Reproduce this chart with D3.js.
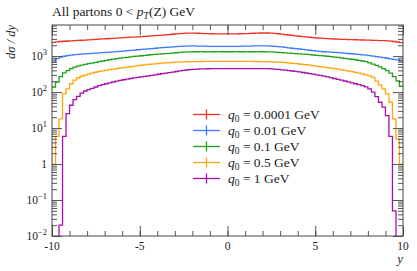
<!DOCTYPE html>
<html>
<head>
<meta charset="utf-8">
<script src="https://cdn.jsdelivr.net/npm/d3@7"></script>
<style>
  body { margin: 0; background: #fff; }
  svg { display: block; }
  text { font-family: "Liberation Serif", "DejaVu Serif", serif; fill: #222; }
</style>
</head>
<body>
<div id="chart"></div>
<script>
// rapidity bins: -10 .. 10 in steps of 0.2
const binEdges = d3.range(101).map(i => +(-10 + i * 0.2).toFixed(1));

// d sigma / dy per bin, left to right
const red = [
  2400, 2480, 2540, 2580, 2620, 2650, 2690, 2720, 2750, 2780,
  2820, 2860, 2900, 2950, 2990, 3030, 3080, 3120, 3160, 3200,
  3240, 3290, 3340, 3380, 3430, 3480, 3530, 3580, 3630, 3680,
  3740, 3800, 3870, 3950, 4040, 4130, 4220, 4290, 4340, 4350,
  4330, 4300, 4260, 4220, 4190, 4170, 4160, 4150, 4150, 4150,
  4150, 4150, 4160, 4170, 4190, 4220, 4260, 4300, 4340, 4370,
  4380, 4370, 4330, 4260, 4170, 4070, 3960, 3850, 3740, 3640,
  3550, 3470, 3400, 3330, 3270, 3210, 3160, 3110, 3060, 3020,
  2980, 2950, 2920, 2900, 2880, 2860, 2840, 2820, 2800, 2780,
  2760, 2740, 2720, 2700, 2670, 2640, 2600, 2540, 2460, 2370
];
const blue = [
  680, 850, 930, 990, 1030, 1060, 1090, 1110, 1130, 1150,
  1170, 1190, 1210, 1230, 1250, 1270, 1290, 1310, 1330, 1350,
  1380, 1410, 1440, 1470, 1500, 1530, 1560, 1590, 1620, 1650,
  1680, 1710, 1740, 1770, 1800, 1830, 1860, 1880, 1900, 1910,
  1910, 1900, 1890, 1880, 1870, 1870, 1860, 1860, 1860, 1860,
  1860, 1860, 1870, 1870, 1880, 1890, 1900, 1910, 1920, 1930,
  1930, 1920, 1900, 1870, 1830, 1790, 1740, 1700, 1650, 1610,
  1570, 1530, 1490, 1450, 1420, 1380, 1350, 1320, 1300, 1280,
  1260, 1240, 1220, 1200, 1180, 1160, 1130, 1110, 1080, 1060,
  1030, 1000, 970, 940, 900, 870, 840, 810, 780, 720
];
const green = [
  138, 190, 270, 340, 395, 445, 490, 525, 560, 590,
  615, 640, 665, 700, 730, 760, 790, 820, 850, 875,
  900, 925, 950, 975, 1000, 1020, 1045, 1070, 1090, 1110,
  1130, 1150, 1170, 1190, 1210, 1235, 1260, 1280, 1300, 1310,
  1320, 1320, 1325, 1320, 1315, 1320, 1320, 1325, 1320, 1320,
  1320, 1320, 1325, 1320, 1320, 1315, 1320, 1320, 1325, 1320,
  1320, 1310, 1300, 1290, 1270, 1250, 1230, 1210, 1190, 1170,
  1150, 1130, 1110, 1090, 1070, 1050, 1030, 1010, 990, 965,
  940, 915, 890, 865, 840, 815, 790, 760, 730, 700,
  650, 600, 550, 500, 450, 395, 335, 270, 205, 145
];
const orange = [
  1.0, 5.9, 18, 89, 123, 170, 214, 250, 275, 295,
  315, 335, 355, 375, 390, 405, 420, 435, 450, 465,
  480, 495, 510, 525, 540, 555, 570, 585, 598, 610,
  622, 634, 645, 655, 665, 675, 683, 690, 695, 700,
  703, 705, 707, 708, 708, 708, 708, 708, 708, 708,
  708, 708, 708, 708, 708, 708, 708, 707, 706, 705,
  705, 700, 693, 685, 676, 666, 655, 643, 630, 616,
  602, 588, 573, 558, 543, 528, 512, 496, 480, 464,
  448, 432, 416, 400, 384, 368, 352, 336, 319, 300,
  280, 255, 200, 155, 123, 89, 52, 18, 5, 1.0
];
const purple = [
  0, 0, 0.02, 5.9, 25, 43, 62, 76, 93, 107,
  117, 127, 138, 150, 160, 170, 180, 190, 200, 210,
  220, 229, 238, 247, 256, 265, 274, 283, 292, 301,
  312, 324, 336, 348, 360, 373, 386, 398, 410, 420,
  428, 434, 439, 442, 444, 446, 447, 447, 447, 447,
  447, 447, 447, 447, 447, 447, 447, 447, 447, 447,
  447, 445, 440, 433, 425, 416, 406, 396, 385, 374,
  362, 350, 338, 326, 314, 302, 290, 277, 264, 251,
  238, 226, 214, 203, 192, 181, 170, 160, 150, 139,
  122, 100, 75, 52, 38, 22, 5.9, 0.05, 0, 0
];

const seriesNames = ["0.0001", "0.01", "0.1", "0.5", "1"];
const seriesValues = [red, blue, green, orange, purple];
const seriesColors = ["#ee3324", "#3f7bff", "#1ea21e", "#ffa50a", "#a80fae"];

const xMajor = [-10, -5, 0, 5, 10];
const xMinor = d3.range(-10, 11, 1);
const yDecades = [-2, -1, 0, 1, 2, 3];

const W = 417, H = 271;
const margin = { top: 25, right: 14, bottom: 35, left: 52 };
const width = W - margin.left - margin.right;
const height = H - margin.top - margin.bottom;

const svg = d3.select("#chart").append("svg")
  .attr("width", W).attr("height", H);

const x = d3.scaleLinear().domain([-10, 10]).range([0, width]);
const y = d3.scaleLog().domain([0.01, 7300]).range([height, 0]);

const g = svg.append("g")
  .attr("transform", `translate(${margin.left},${margin.top})`);

g.append("clipPath").attr("id", "plotclip")
  .append("rect").attr("x", 0).attr("y", 0).attr("width", width).attr("height", height);

// histogram lines
const line = d3.line()
  .curve(d3.curveStepAfter)
  .x(d => x(d.x))
  .y(d => d.v > 0 ? y(d.v) : height + 30);

seriesValues.forEach((vals, k) => {
  const pts = vals.map((v, i) => ({ x: binEdges[i], v }));
  pts.push({ x: binEdges[vals.length], v: vals[vals.length - 1] });
  g.append("path")
    .attr("clip-path", "url(#plotclip)")
    .attr("d", line(pts))
    .attr("fill", "none")
    .attr("stroke", seriesColors[k])
    .attr("stroke-width", 1.3);
});

// log minor ticks
const yMinor = [];
yDecades.forEach(e => {
  for (let m = 2; m <= 9; m++) {
    const v = m * Math.pow(10, e);
    if (v <= 7300) yMinor.push(v);
  }
});
const yMajor = yDecades.map(e => Math.pow(10, e));

const axisColor = "#444";
function styleAxis(sel) {
  sel.select(".domain").remove();
  sel.selectAll(".tick line").attr("stroke", axisColor).attr("stroke-width", 0.9);
  sel.selectAll(".tick text").remove();
}

// bottom & top
g.append("g").attr("transform", `translate(0,${height})`)
  .call(d3.axisBottom(x).tickValues(xMinor).tickSize(-5)).call(styleAxis);
g.append("g").attr("transform", `translate(0,${height})`)
  .call(d3.axisBottom(x).tickValues(xMajor).tickSize(-10)).call(styleAxis);
g.append("g")
  .call(d3.axisTop(x).tickValues(xMinor).tickSize(-5)).call(styleAxis);
g.append("g")
  .call(d3.axisTop(x).tickValues(xMajor).tickSize(-10)).call(styleAxis);

// left & right
g.append("g").call(d3.axisLeft(y).tickValues(yMinor).tickSize(-5)).call(styleAxis);
g.append("g").call(d3.axisLeft(y).tickValues(yMajor).tickSize(-10)).call(styleAxis);
g.append("g").attr("transform", `translate(${width},0)`)
  .call(d3.axisRight(y).tickValues(yMinor).tickSize(-5)).call(styleAxis);
g.append("g").attr("transform", `translate(${width},0)`)
  .call(d3.axisRight(y).tickValues(yMajor).tickSize(-10)).call(styleAxis);

// frame
g.append("rect")
  .attr("x", 0).attr("y", 0).attr("width", width).attr("height", height)
  .attr("fill", "none").attr("stroke", axisColor).attr("stroke-width", 1);

// x tick labels
g.selectAll(".xlab").data(xMajor).join("text")
  .attr("class", "xlab")
  .attr("x", d => x(d))
  .attr("y", height + 14)
  .attr("text-anchor", "middle")
  .style("font-size", "11.5px")
  .text(d => d);

// y tick labels
const ylab = g.selectAll(".ylab").data(yDecades).join("text")
  .attr("class", "ylab")
  .attr("x", -5)
  .attr("y", d => y(Math.pow(10, d)) + 3.5)
  .attr("text-anchor", "end")
  .style("font-size", "11.5px");
ylab.each(function(d) {
  const t = d3.select(this);
  if (d === 0) { t.text("1"); return; }
  t.append("tspan").text("10");
  t.append("tspan").attr("dy", -4.5).style("font-size", "8.5px")
    .text(d < 0 ? "\u2212" + (-d) : d);
});

// axis titles
svg.append("text")
  .attr("x", margin.left + width)
  .attr("y", H - 8)
  .attr("text-anchor", "end")
  .style("font-size", "13px")
  .style("font-style", "italic")
  .text("y");

svg.append("text")
  .attr("transform", `translate(15,${margin.top}) rotate(-90)`)
  .attr("text-anchor", "end")
  .style("font-size", "12.5px")
  .style("font-style", "italic")
  .text("d\u03c3 / dy");

// title
const title = svg.append("text")
  .attr("x", margin.left)
  .attr("y", 16)
  .style("font-size", "13.5px");
title.append("tspan").text("All partons 0 < ");
title.append("tspan").style("font-style", "italic").text("p");
title.append("tspan").attr("dy", 2.5).style("font-size", "9.5px").style("font-style", "italic").text("T");
title.append("tspan").attr("dy", -2.5).text("(Z) GeV");

// legend
const legend = svg.append("g");
seriesNames.forEach((name, k) => {
  const ly = 114.5 + k * 16;
  const row = legend.append("g").attr("transform", `translate(0,${ly})`);
  row.append("line").attr("x1", 193).attr("x2", 220).attr("y1", 0).attr("y2", 0)
    .attr("stroke", seriesColors[k]).attr("stroke-width", 1.3);
  row.append("line").attr("x1", 206.5).attr("x2", 206.5).attr("y1", -5).attr("y2", 5)
    .attr("stroke", seriesColors[k]).attr("stroke-width", 1.3);
  const t = row.append("text").attr("x", 228).attr("y", 4.5).style("font-size", "13.5px");
  t.append("tspan").style("font-style", "italic").text("q");
  t.append("tspan").attr("dy", 2.5).style("font-size", "9.5px").text("0");
  t.append("tspan").attr("dy", -2.5).text(" = " + name + " GeV");
});
</script>
</body>
</html>
